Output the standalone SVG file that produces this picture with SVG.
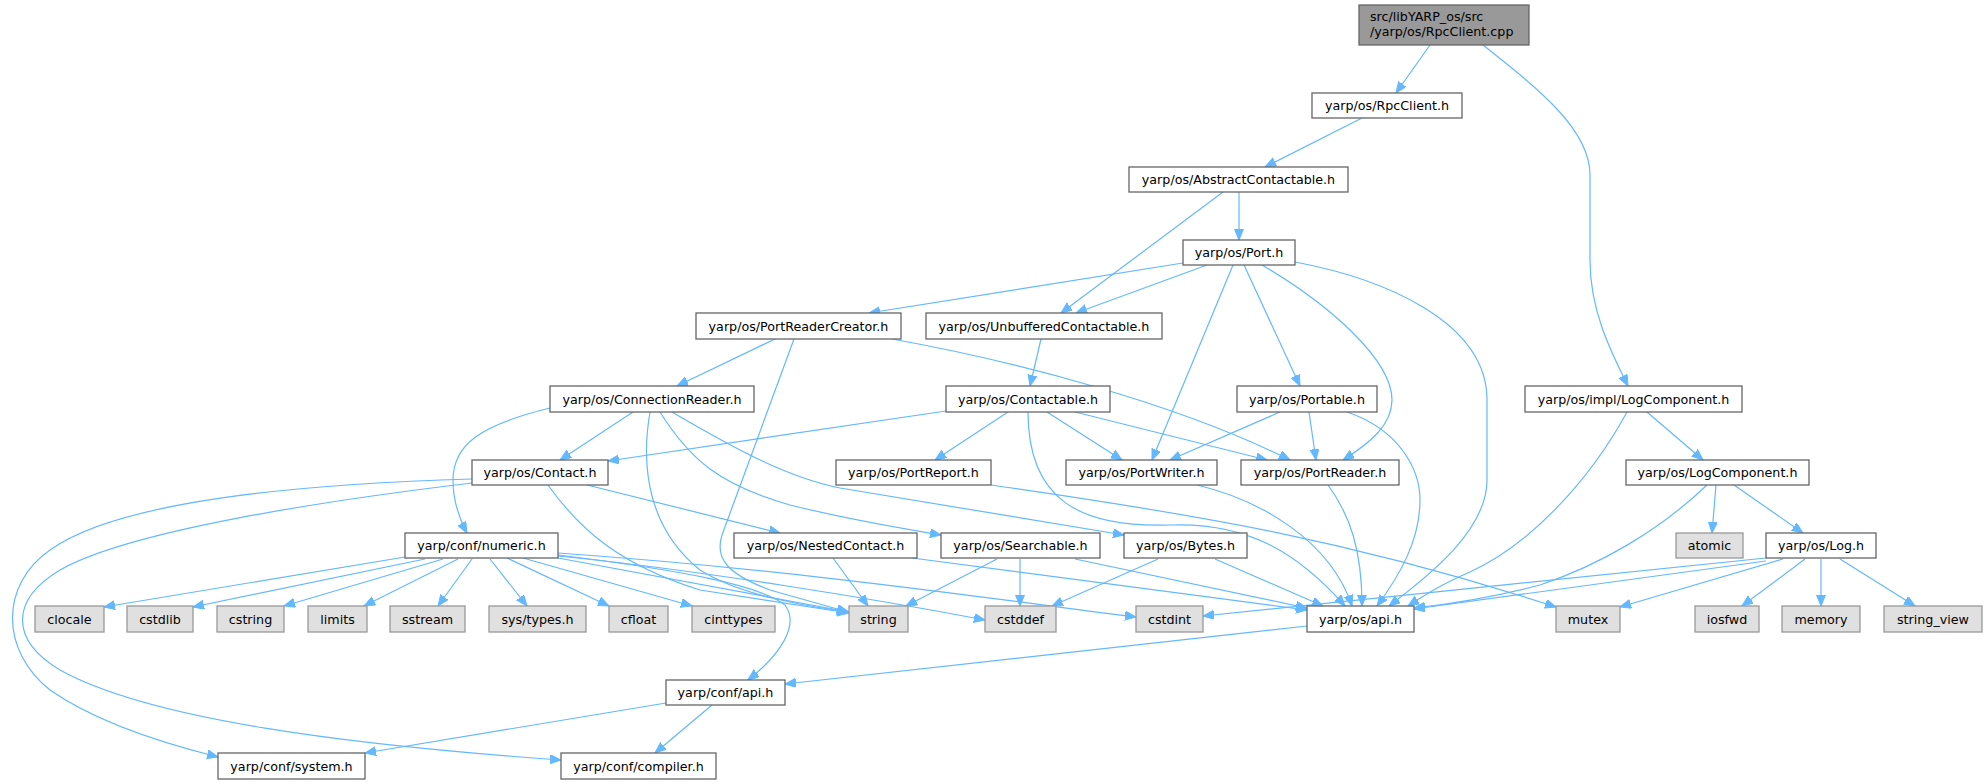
<svg xmlns="http://www.w3.org/2000/svg" width="1988" height="784" viewBox="0 0 1988 784">
<style>
.n rect{fill:#ffffff;stroke:#666666;stroke-width:1.3}
.x rect{fill:#e0e0e0;stroke:#999999;stroke-width:1.3}
.r rect{fill:#999999;stroke:#666666;stroke-width:1.3}
text{font-family:"DejaVu Sans","Liberation Sans",sans-serif;font-size:12.7px;fill:#000000;text-anchor:middle}
.r text{text-anchor:start}
#edges path{fill:none;stroke:#63b8ff;stroke-width:1.2;marker-end:url(#a)}
</style>
<defs>
<marker id="a" markerUnits="userSpaceOnUse" markerWidth="12" markerHeight="10" refX="11" refY="4.5" orient="auto">
<path d="M0,0 L11,4.5 L0,9 z" fill="#63b8ff" stroke="#63b8ff" stroke-width="1"/>
</marker>
</defs>
<rect width="1988" height="784" fill="#ffffff"/>
<g id="edges">
<path d="M1430,45 L1396,93"/>
<path d="M1483,45 C1540,90 1590,130 1590,175 L1590,260 C1590,310 1610,350 1628,386"/>
<path d="M1362,118 L1265,167"/>
<path d="M1239,192 L1239,240"/>
<path d="M1223,192 L1061,313"/>
<path d="M1183,263 L869,313"/>
<path d="M1207,265 L1076,313"/>
<path d="M1233,265 L1152,460"/>
<path d="M1244,265 L1300,386"/>
<path d="M1262,265 C1330,305 1392,360 1392,400 C1392,425 1370,443 1343,460"/>
<path d="M1295,262 C1380,278 1487,320 1487,400 L1487,480 C1487,530 1430,575 1389,606"/>
<path d="M775,339 L677,386"/>
<path d="M794,339 L722,535 C714,560 730,575 770,590 L848,612"/>
<path d="M892,339 C1020,362 1180,405 1290,460"/>
<path d="M1041,339 L1030,386"/>
<path d="M633,412 L560,460"/>
<path d="M550,408 C480,425 453,445 453,480 C453,500 460,520 467,533"/>
<path d="M650,412 C640,470 650,530 700,570 C740,595 800,605 848,612"/>
<path d="M660,412 C690,460 720,485 790,505 C850,520 900,528 941,535"/>
<path d="M672,412 C740,452 790,478 840,488 L1124,535"/>
<path d="M946,411 L608,461"/>
<path d="M1008,412 L935,460"/>
<path d="M1047,412 L1122,460"/>
<path d="M1075,412 L1267,460"/>
<path d="M1028,412 C1028,500 1080,528 1170,525 C1250,522 1300,555 1345,606"/>
<path d="M1280,412 L1170,460"/>
<path d="M1309,412 L1316,460"/>
<path d="M1347,412 C1400,430 1420,470 1420,500 C1420,540 1400,575 1377,606"/>
<path d="M472,479 C300,484 120,500 50,550 C0,585 0,650 50,690 C100,725 170,745 218,757"/>
<path d="M472,483 C330,500 130,530 60,570 C10,600 10,640 60,670 C150,720 350,745 561,760"/>
<path d="M548,485 C580,530 620,565 700,590 L849,613"/>
<path d="M587,485 L780,533"/>
<path d="M991,485 C1200,515 1350,540 1556,607"/>
<path d="M1197,485 C1260,500 1330,540 1352,606"/>
<path d="M1328,485 C1350,515 1362,550 1362,606"/>
<path d="M405,557 L104,607"/>
<path d="M425,559 L193,607"/>
<path d="M443,559 L284,606"/>
<path d="M458,559 L364,606"/>
<path d="M472,559 L438,606"/>
<path d="M490,559 L527,606"/>
<path d="M507,558 L609,606"/>
<path d="M523,558 L692,606"/>
<path d="M558,558 L849,612"/>
<path d="M558,556 C700,570 880,600 985,620"/>
<path d="M558,553 C800,570 1000,600 1136,617"/>
<path d="M558,555 C680,570 760,585 785,605 C800,625 780,655 748,680"/>
<path d="M833,558 L868,606"/>
<path d="M912,558 L1307,610"/>
<path d="M997,559 L906,606"/>
<path d="M1020,559 L1020,606"/>
<path d="M1075,559 L1307,608"/>
<path d="M1158,559 L1052,606"/>
<path d="M1215,559 L1323,606"/>
<path d="M1307,626 L785,684"/>
<path d="M666,703 L365,753"/>
<path d="M712,705 L655,753"/>
<path d="M1627,412 C1590,480 1530,545 1470,572 C1440,585 1425,595 1408,606"/>
<path d="M1647,412 L1703,460"/>
<path d="M1707,485 C1660,530 1600,565 1540,585 C1490,598 1450,604 1414,608"/>
<path d="M1716,485 L1712,533"/>
<path d="M1734,485 L1803,533"/>
<path d="M1766,561 L1414,609"/>
<path d="M1766,558 L1203,616"/>
<path d="M1783,559 L1620,607"/>
<path d="M1805,559 L1742,606"/>
<path d="M1821,559 L1821,606"/>
<path d="M1840,559 L1915,606"/>
</g>
<g id="root" class="r"><rect x="1359" y="5" width="170" height="40"/><text x="1370" y="21">src/libYARP_os/src</text><text x="1370" y="36">/yarp/os/RpcClient.cpp</text></g>
<g id="rpcclient" class="n"><rect x="1312" y="93" width="150" height="25"/><text x="1387" y="110">yarp/os/RpcClient.h</text></g>
<g id="abstractcontactable" class="n"><rect x="1129" y="167" width="219" height="25"/><text x="1238.5" y="184">yarp/os/AbstractContactable.h</text></g>
<g id="port" class="n"><rect x="1183" y="240" width="112" height="25"/><text x="1239" y="257">yarp/os/Port.h</text></g>
<g id="portreadercreator" class="n"><rect x="696" y="313" width="205" height="26"/><text x="798.5" y="330.5">yarp/os/PortReaderCreator.h</text></g>
<g id="unbufferedcontactable" class="n"><rect x="926" y="313" width="236" height="26"/><text x="1044" y="330.5">yarp/os/UnbufferedContactable.h</text></g>
<g id="impllogcomponent" class="n"><rect x="1525" y="386" width="217" height="26"/><text x="1633.5" y="403.5">yarp/os/impl/LogComponent.h</text></g>
<g id="connectionreader" class="n"><rect x="550" y="386" width="204" height="26"/><text x="652" y="403.5">yarp/os/ConnectionReader.h</text></g>
<g id="contactable" class="n"><rect x="946" y="386" width="164" height="26"/><text x="1028" y="403.5">yarp/os/Contactable.h</text></g>
<g id="portable" class="n"><rect x="1237" y="386" width="140" height="26"/><text x="1307" y="403.5">yarp/os/Portable.h</text></g>
<g id="contact" class="n"><rect x="472" y="460" width="136" height="25"/><text x="540" y="477">yarp/os/Contact.h</text></g>
<g id="portreport" class="n"><rect x="836" y="460" width="155" height="25"/><text x="913.5" y="477">yarp/os/PortReport.h</text></g>
<g id="portwriter" class="n"><rect x="1066" y="460" width="151" height="25"/><text x="1141.5" y="477">yarp/os/PortWriter.h</text></g>
<g id="portreader" class="n"><rect x="1241" y="460" width="158" height="25"/><text x="1320" y="477">yarp/os/PortReader.h</text></g>
<g id="logcomponent" class="n"><rect x="1626" y="460" width="183" height="25"/><text x="1717.5" y="477">yarp/os/LogComponent.h</text></g>
<g id="numeric" class="n"><rect x="405" y="533" width="153" height="25"/><text x="481.5" y="550">yarp/conf/numeric.h</text></g>
<g id="nestedcontact" class="n"><rect x="734" y="533" width="183" height="25"/><text x="825.5" y="550">yarp/os/NestedContact.h</text></g>
<g id="searchable" class="n"><rect x="941" y="533" width="159" height="25"/><text x="1020.5" y="550">yarp/os/Searchable.h</text></g>
<g id="bytes" class="n"><rect x="1124" y="533" width="123" height="25"/><text x="1185.5" y="550">yarp/os/Bytes.h</text></g>
<g id="atomic" class="x"><rect x="1676" y="533" width="67" height="25"/><text x="1709.5" y="550">atomic</text></g>
<g id="log" class="n"><rect x="1766" y="533" width="110" height="25"/><text x="1821" y="550">yarp/os/Log.h</text></g>
<g id="clocale" class="x"><rect x="35" y="606" width="69" height="26"/><text x="69.5" y="623.5">clocale</text></g>
<g id="cstdlib" class="x"><rect x="127" y="606" width="66" height="26"/><text x="160" y="623.5">cstdlib</text></g>
<g id="cstring" class="x"><rect x="217" y="606" width="67" height="26"/><text x="250.5" y="623.5">cstring</text></g>
<g id="limits" class="x"><rect x="308" y="606" width="59" height="26"/><text x="337.5" y="623.5">limits</text></g>
<g id="sstream" class="x"><rect x="390" y="606" width="75" height="26"/><text x="427.5" y="623.5">sstream</text></g>
<g id="systypes" class="x"><rect x="489" y="606" width="97" height="26"/><text x="537.5" y="623.5">sys/types.h</text></g>
<g id="cfloat" class="x"><rect x="609" y="606" width="59" height="26"/><text x="638.5" y="623.5">cfloat</text></g>
<g id="cinttypes" class="x"><rect x="692" y="606" width="83" height="26"/><text x="733.5" y="623.5">cinttypes</text></g>
<g id="string" class="x"><rect x="849" y="606" width="59" height="26"/><text x="878.5" y="623.5">string</text></g>
<g id="cstddef" class="x"><rect x="985" y="606" width="71" height="26"/><text x="1020.5" y="623.5">cstddef</text></g>
<g id="cstdint" class="x"><rect x="1136" y="606" width="67" height="26"/><text x="1169.5" y="623.5">cstdint</text></g>
<g id="osapi" class="n"><rect x="1307" y="606" width="107" height="26"/><text x="1360.5" y="623.5">yarp/os/api.h</text></g>
<g id="mutex" class="x"><rect x="1556" y="606" width="64" height="26"/><text x="1588" y="623.5">mutex</text></g>
<g id="iosfwd" class="x"><rect x="1695" y="606" width="64" height="26"/><text x="1727" y="623.5">iosfwd</text></g>
<g id="memory" class="x"><rect x="1782" y="606" width="78" height="26"/><text x="1821" y="623.5">memory</text></g>
<g id="stringview" class="x"><rect x="1884" y="606" width="98" height="26"/><text x="1933" y="623.5">string_view</text></g>
<g id="confapi" class="n"><rect x="666" y="680" width="119" height="25"/><text x="725.5" y="697">yarp/conf/api.h</text></g>
<g id="system" class="n"><rect x="218" y="753" width="147" height="26"/><text x="291.5" y="770.5">yarp/conf/system.h</text></g>
<g id="compiler" class="n"><rect x="561" y="753" width="155" height="26"/><text x="638.5" y="770.5">yarp/conf/compiler.h</text></g>
</svg>
